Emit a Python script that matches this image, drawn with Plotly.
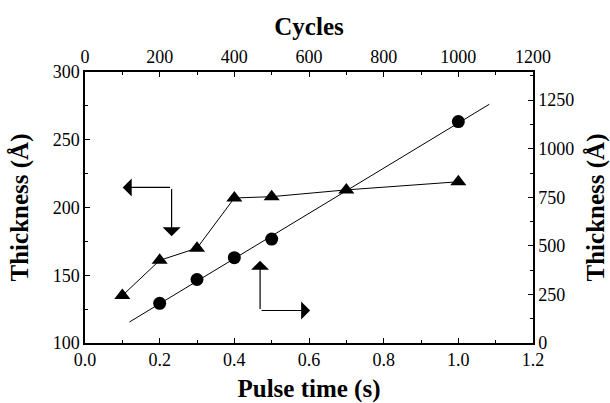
import plotly.graph_objects as go

# Data
pulse_time = [0.1, 0.2, 0.3, 0.4, 0.5, 0.7, 1.0]
thickness_pulse = [135, 161, 170, 207, 208, 213, 219]

cycles = [200, 300, 400, 500, 1000]
thickness_cycles = [204, 327, 439, 535, 1140]

fit_cycles = [119, 1083]
fit_thickness = [108, 1229]

FONT = "Liberation Serif, Times New Roman, Times, serif"

fig = go.Figure()

fig.add_trace(go.Scatter(
    x=pulse_time, y=thickness_pulse, mode="lines+markers",
    line=dict(color="black", width=1),
    marker=dict(symbol="triangle-up", size=14, color="black"),
    xaxis="x", yaxis="y", showlegend=False))

fig.add_trace(go.Scatter(
    x=fit_cycles, y=fit_thickness, mode="lines",
    line=dict(color="black", width=1),
    xaxis="x2", yaxis="y2", showlegend=False))

fig.add_trace(go.Scatter(
    x=cycles, y=thickness_cycles, mode="markers",
    marker=dict(symbol="circle", size=13, color="black"),
    xaxis="x2", yaxis="y2", showlegend=False))

tickfont = dict(family=FONT, size=18, color="black")
titlefont = dict(family=FONT, size=25, color="black", weight="bold")

common = dict(showgrid=False, zeroline=False, showline=True, linecolor="black",
              linewidth=1.5, ticks="inside", ticklen=5, tickwidth=1.2,
              tickcolor="black", tickfont=tickfont, automargin=False)

fig.update_layout(
    width=610, height=403,
    font=dict(family=FONT, color="black"),
    margin=dict(l=85, r=77, t=72, b=60),
    paper_bgcolor="white", plot_bgcolor="white",
    xaxis=dict(range=[0, 1.2], dtick=0.2, tickformat=".1f",
               minor=dict(dtick=0.1, ticks="inside", ticklen=3, tickcolor="black"),
               title=dict(text="Pulse time (s)", font=titlefont, standoff=16),
               **common),
    xaxis2=dict(range=[0, 1200], dtick=200, overlaying="x", side="top",
                minor=dict(dtick=100, ticks="inside", ticklen=3, tickcolor="black"),
                title=dict(text="Cycles", font=titlefont, standoff=4),
                **common),
    yaxis=dict(range=[100, 300], dtick=50,
               minor=dict(dtick=25, ticks="inside", ticklen=3, tickcolor="black"),
               title=dict(text="Thickness (Å)", font=titlefont, standoff=17),
               **common),
    yaxis2=dict(range=[0, 1395], dtick=250, overlaying="y", side="right",
                minor=dict(dtick=125, ticks="inside", ticklen=3, tickcolor="black"),
                title=dict(text="Thickness (Å)", font=titlefont, standoff=13),
                **common),
)

arrow = dict(showarrow=True, arrowhead=1, arrowsize=2.5, arrowwidth=1.2,
             arrowcolor="black", text="", xref="x", yref="y", axref="x", ayref="y")
# left-axis indicator
fig.add_annotation(x=0.101, y=214.8, ax=0.232, ay=214.8, **arrow)
fig.add_annotation(x=0.232, y=178.7, ax=0.232, ay=214.8, **arrow)
# right-axis indicator
fig.add_annotation(x=0.469, y=160.7, ax=0.469, ay=124, **arrow)
fig.add_annotation(x=0.603, y=124, ax=0.469, ay=124, **arrow)

fig.write_html(
    "out.html",
    post_script=(
        "document.body.style.margin='0';document.body.style.overflow='hidden';"
        "var s=document.createElement('style');"
        "s.textContent='.modebar-container{display:none !important;}';"
        "document.head.appendChild(s);"
    ))
